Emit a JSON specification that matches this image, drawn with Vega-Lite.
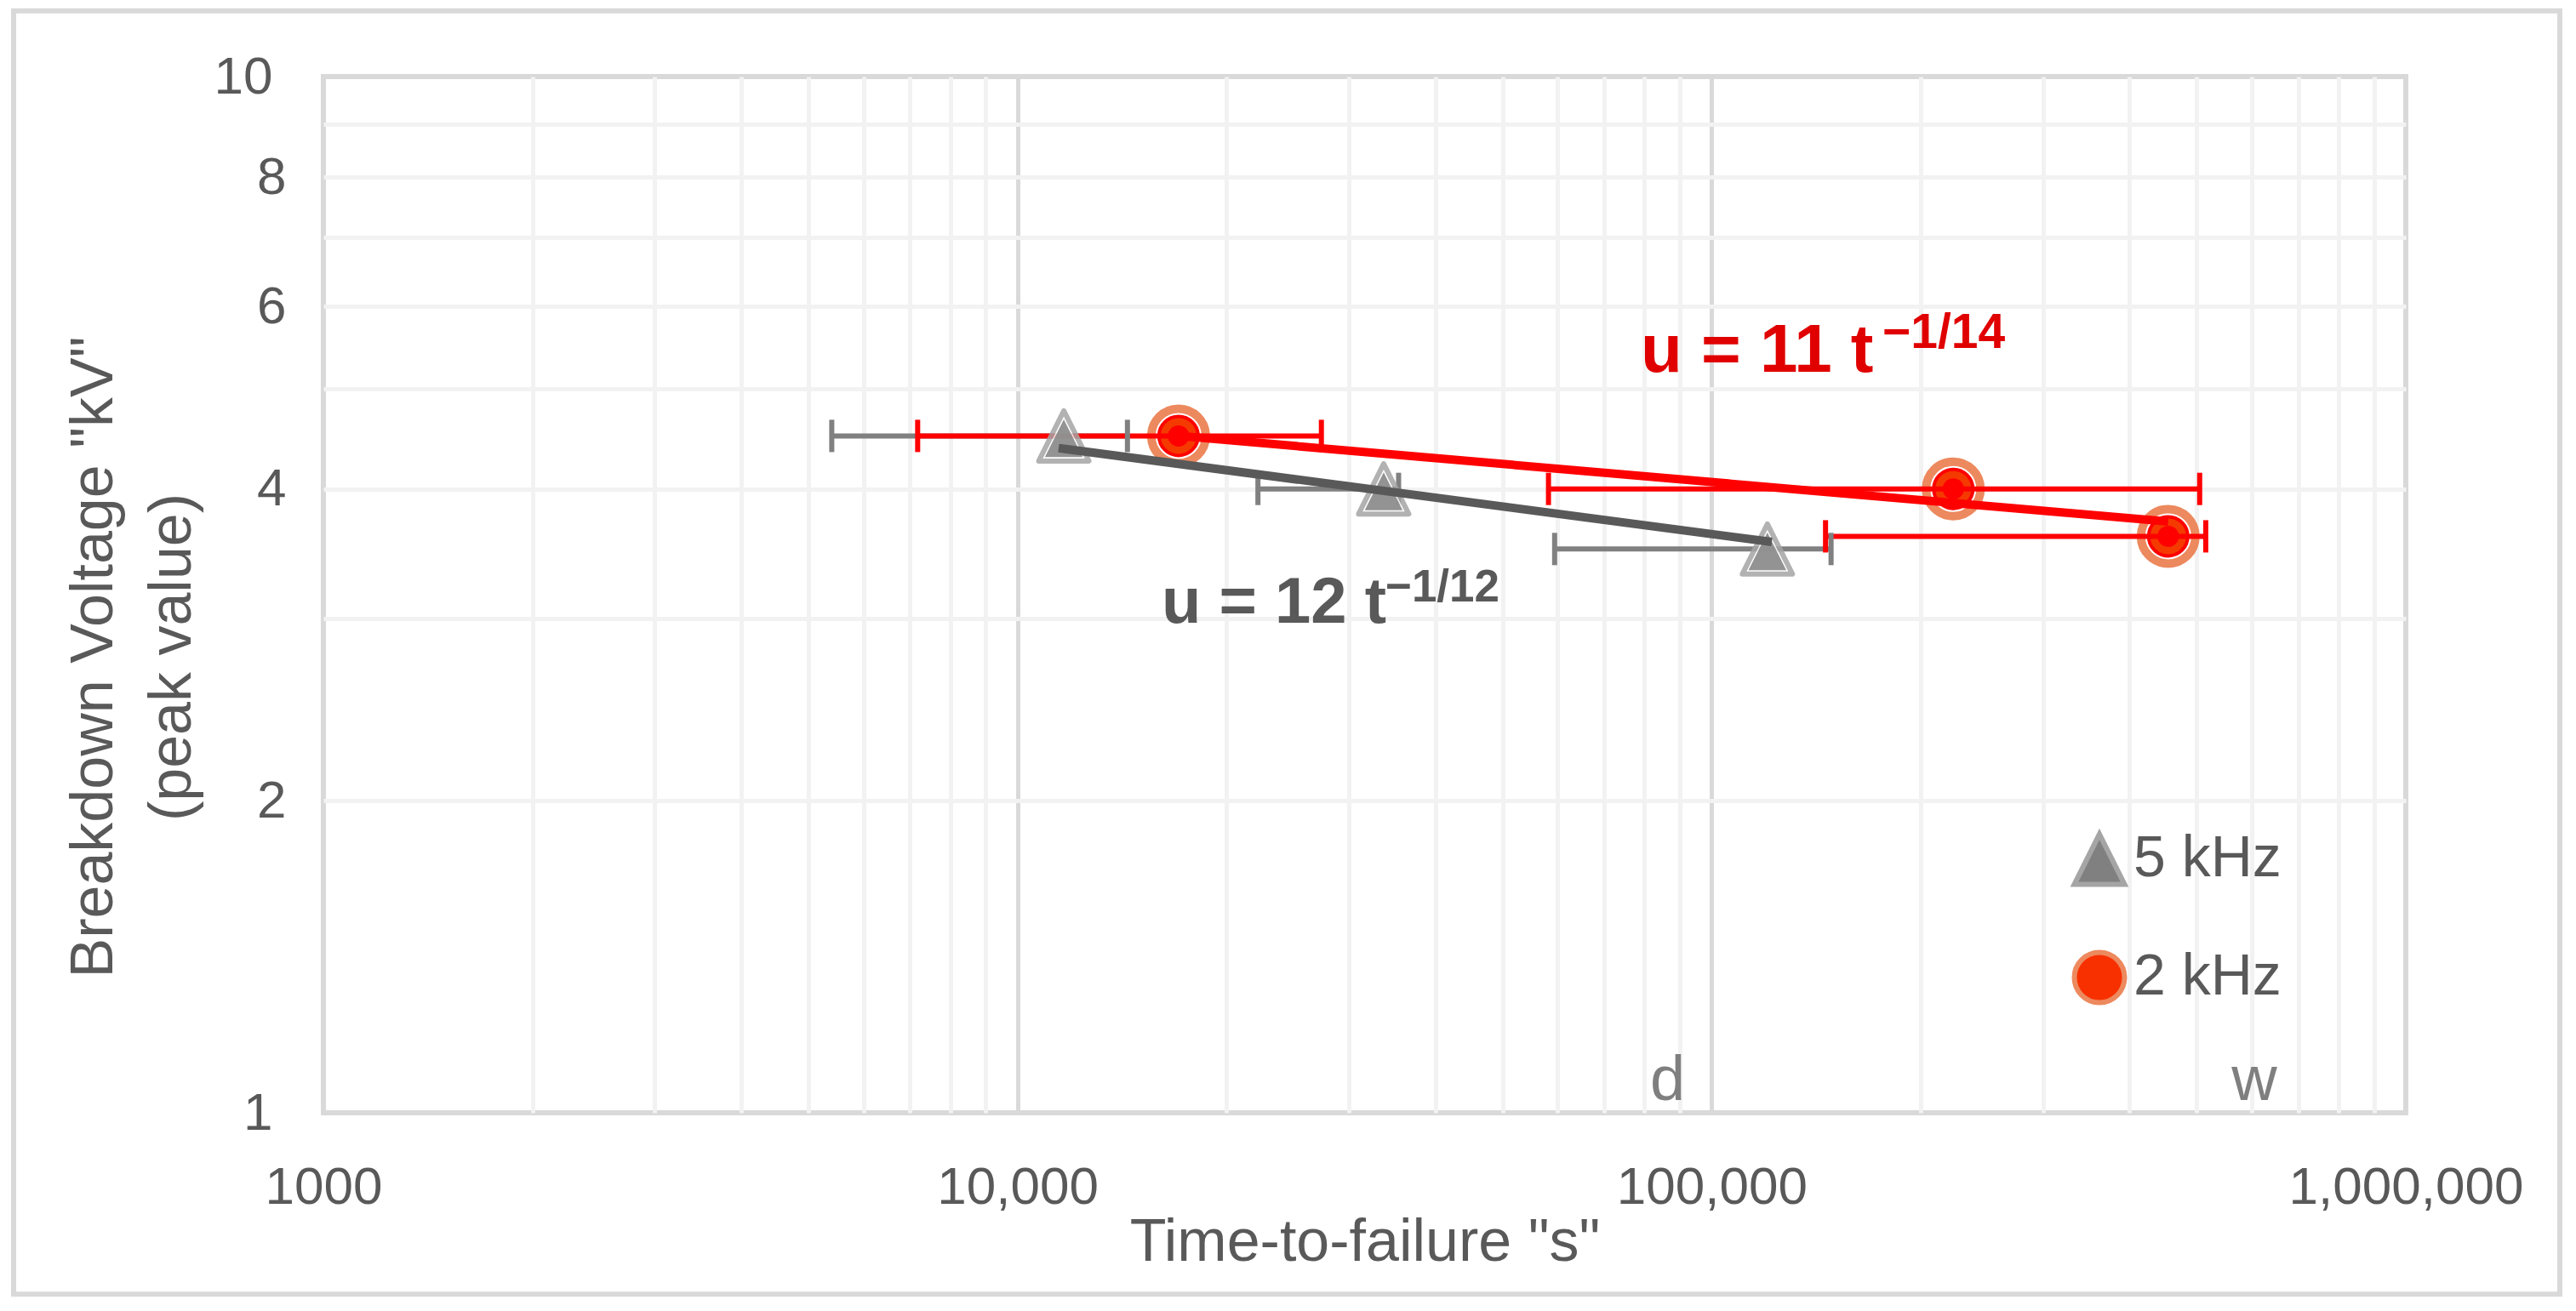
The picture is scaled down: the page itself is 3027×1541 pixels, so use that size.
{
  "$schema": "https://vega.github.io/schema/vega-lite/v6.json",
  "width": 2447,
  "height": 1218,
  "autosize": {"type": "none"},
  "padding": {"left": 380, "top": 90, "right": 200, "bottom": 233},
  "background": "white",
  "config": {
    "font": "Liberation Sans",
    "view": {"stroke": "#d9d9d9", "strokeWidth": 6}
  },
  "datasets": {
    "points": [
      {"series": "5 kHz", "t": 11660, "u": 4.5, "lo": 5400, "hi": 14400},
      {"series": "5 kHz", "t": 33690, "u": 4.0, "lo": 22200, "hi": 35400},
      {"series": "5 kHz", "t": 120300, "u": 3.5, "lo": 59400, "hi": 148600},
      {"series": "2 kHz", "t": 17060, "u": 4.5, "lo": 7180, "hi": 27400},
      {"series": "2 kHz", "t": 222900, "u": 4.0, "lo": 58200, "hi": 504700},
      {"series": "2 kHz", "t": 454700, "u": 3.6, "lo": 145900, "hi": 515000}
    ],
    "fits": [
      {"series": "5 kHz", "t": 11460, "u": 4.38},
      {"series": "5 kHz", "t": 122100, "u": 3.555},
      {"series": "2 kHz", "t": 17060, "u": 4.5},
      {"series": "2 kHz", "t": 454700, "u": 3.72}
    ],
    "notes": [
      {"series": "5 kHz", "part": "base", "text": "u = 12 t", "t": 16130, "u": 2.972},
      {"series": "5 kHz", "part": "sup", "text": "−1/12", "t": 33880, "u": 3.115},
      {"series": "2 kHz", "part": "base", "text": "u = 11 t", "t": 79040, "u": 5.189},
      {"series": "2 kHz", "part": "sup", "text": "−1/14", "t": 176200, "u": 5.471}
    ],
    "periods": [
      {"text": "d", "t": 86400},
      {"text": "w", "t": 604800}
    ]
  },
  "layer": [
    {
      "data": {"values": [{}]},
      "mark": {"type": "rect", "fillOpacity": 0, "stroke": "#d9d9d9", "strokeWidth": 6, "clip": false},
      "encoding": {
        "x": {"datum": 357.9, "type": "quantitative"},
        "x2": {"datum": 1666700},
        "y": {"datum": 11.57, "type": "quantitative"},
        "y2": {"datum": 0.6683}
      }
    },
    {
      "data": {"name": "points"},
      "transform": [{"filter": "datum.series == '2 kHz'"}],
      "mark": {"type": "point", "shape": "circle", "size": 4096, "filled": true, "fill": "white", "stroke": "#ED895E", "strokeWidth": 10, "opacity": 1},
      "encoding": {
        "x": {
          "field": "t", "type": "quantitative",
          "scale": {"type": "log", "domain": [1000, 1000000], "nice": false},
          "axis": {
            "title": "Time-to-failure \"s\"",
            "values": [1000, 2000, 3000, 4000, 5000, 6000, 7000, 8000, 9000, 10000, 20000, 30000, 40000, 50000, 60000, 70000, 80000, 90000, 100000, 200000, 300000, 400000, 500000, 600000, 700000, 800000, 900000, 1000000],
            "labelExpr": "datum.value == 1000 ? '1000' : ((datum.value == 10000 || datum.value == 100000 || datum.value == 1000000) ? format(datum.value, ',') : '')",
            "grid": true,
            "gridColor": {"condition": {"test": "datum.value == 10000 || datum.value == 100000", "value": "#d9d9d9"}, "value": "#f2f2f2"},
            "gridOpacity": {"condition": {"test": "datum.value == 1000 || datum.value == 1000000", "value": 0}, "value": 1},
            "gridWidth": 5,
            "ticks": false,
            "domain": false,
            "labelFontSize": 62,
            "labelColor": "#595959",
            "labelPadding": 57,
            "labelFlush": false,
            "labelOverlap": false,
            "labelLimit": 600,
            "labelBaseline": "top",
            "titleFontSize": 70,
            "titleFontWeight": "normal",
            "titleColor": "#595959",
            "titleBaseline": "alphabetic",
            "titleY": 173
          }
        },
        "y": {
          "field": "u", "type": "quantitative",
          "scale": {"type": "log", "domain": [1, 10], "nice": false},
          "axis": {
            "title": ["Breakdown Voltage \"kV\"", "(peak value)"],
            "values": [1, 2, 3, 4, 5, 6, 7, 8, 9, 10],
            "labelExpr": "indexof([1, 2, 4, 6, 8, 10], datum.value) >= 0 ? '' + datum.value : ''",
            "grid": true,
            "gridColor": "#f2f2f2",
            "gridOpacity": {"condition": {"test": "datum.value == 1 || datum.value == 10", "value": 0}, "value": 1},
            "gridWidth": 5,
            "ticks": false,
            "domain": false,
            "labelFontSize": 62,
            "labelColor": "#595959",
            "labelPadding": {"condition": {"test": "datum.value == 1 || datum.value == 10", "value": 60}, "value": 44},
            "labelOverlap": false,
            "titleFontSize": 70,
            "titleFontWeight": "normal",
            "titleColor": "#595959",
            "titleAngle": 270,
            "titleAlign": "center",
            "titleBaseline": "alphabetic",
            "titleLineHeight": 92,
            "titleX": -249,
            "titleY": 682
          }
        }
      }
    },
    {
      "data": {"name": "points"},
      "transform": [{"filter": "datum.series == '2 kHz'"}],
      "mark": {"type": "point", "shape": "circle", "size": 2116, "filled": true, "fill": "#F53A00", "stroke": "#FF0000", "strokeWidth": 4, "opacity": 1},
      "encoding": {"x": {"field": "t", "type": "quantitative"}, "y": {"field": "u", "type": "quantitative"}}
    },
    {
      "data": {"name": "points"},
      "transform": [{"filter": "datum.series == '2 kHz'"}],
      "mark": {"type": "point", "shape": "circle", "size": 625, "filled": true, "fill": "#FF0000", "strokeWidth": 0, "opacity": 1},
      "encoding": {"x": {"field": "t", "type": "quantitative"}, "y": {"field": "u", "type": "quantitative"}}
    },
    {
      "data": {"name": "points"},
      "mark": {"type": "rule", "strokeWidth": 6, "opacity": 1},
      "encoding": {
        "x": {"field": "lo", "type": "quantitative"},
        "x2": {"field": "hi"},
        "y": {"field": "u", "type": "quantitative"},
        "color": {"condition": {"test": "datum.series == '5 kHz'", "value": "#808080"}, "value": "#FF0000"}
      }
    },
    {
      "data": {"name": "points"},
      "transform": [{"fold": ["lo", "hi"], "as": ["end", "tc"]}],
      "mark": {"type": "tick", "orient": "vertical", "size": 38, "thickness": 6, "opacity": 1},
      "encoding": {
        "x": {"field": "tc", "type": "quantitative"},
        "y": {"field": "u", "type": "quantitative"},
        "color": {"condition": {"test": "datum.series == '5 kHz'", "value": "#808080"}, "value": "#FF0000"}
      }
    },
    {
      "data": {"name": "points"},
      "transform": [{"filter": "datum.series == '5 kHz'"}],
      "mark": {"type": "point", "shape": "M0,-1L1,1L-1,1Z", "size": 3481, "filled": true, "fill": "white", "stroke": "#a5a5a5", "strokeWidth": 6, "strokeJoin": "round", "opacity": 0.85},
      "encoding": {"x": {"field": "t", "type": "quantitative"}, "y": {"field": "u", "type": "quantitative"}}
    },
    {
      "data": {"name": "points"},
      "transform": [{"filter": "datum.series == '5 kHz'"}],
      "mark": {"type": "point", "shape": "M0,-0.659L0.753,0.847L-0.753,0.847Z", "size": 3481, "filled": true, "fill": "#808080", "strokeWidth": 0, "opacity": 0.85},
      "encoding": {"x": {"field": "t", "type": "quantitative"}, "y": {"field": "u", "type": "quantitative"}}
    },
    {
      "data": {"name": "fits"},
      "mark": {"type": "line", "strokeWidth": 10, "strokeCap": "butt"},
      "encoding": {
        "x": {"field": "t", "type": "quantitative"},
        "y": {"field": "u", "type": "quantitative"},
        "detail": {"field": "series", "type": "nominal"},
        "color": {"condition": {"test": "datum.series == '5 kHz'", "value": "#595959"}, "value": "#FF0000"}
      }
    },
    {
      "data": {"name": "notes"},
      "transform": [{"filter": "datum.part == 'base'"}],
      "mark": {"type": "text", "fontWeight": "bold", "align": "left", "baseline": "alphabetic"},
      "encoding": {
        "x": {"field": "t", "type": "quantitative"},
        "y": {"field": "u", "type": "quantitative"},
        "text": {"field": "text"},
        "size": {"condition": {"test": "datum.series == '2 kHz'", "value": 80}, "value": 76},
        "color": {"condition": {"test": "datum.series == '2 kHz'", "value": "#E00000"}, "value": "#595959"}
      }
    },
    {
      "data": {"name": "notes"},
      "transform": [{"filter": "datum.part == 'sup'"}],
      "mark": {"type": "text", "fontWeight": "bold", "align": "left", "baseline": "alphabetic"},
      "encoding": {
        "x": {"field": "t", "type": "quantitative"},
        "y": {"field": "u", "type": "quantitative"},
        "text": {"field": "text"},
        "size": {"condition": {"test": "datum.series == '2 kHz'", "value": 57}, "value": 53},
        "color": {"condition": {"test": "datum.series == '2 kHz'", "value": "#E00000"}, "value": "#595959"}
      }
    },
    {
      "data": {"name": "periods"},
      "mark": {"type": "text", "align": "center", "baseline": "alphabetic", "dy": -15, "fontSize": 74, "color": "#7f7f7f"},
      "encoding": {
        "x": {"field": "t", "type": "quantitative"},
        "y": {"datum": 1, "type": "quantitative"},
        "text": {"field": "text"}
      }
    },
    {
      "data": {"name": "points"},
      "transform": [{"filter": "datum.series == 'none'"}],
      "mark": {"type": "point", "filled": true, "opacity": 1, "strokeWidth": 6},
      "encoding": {
        "x": {"field": "t", "type": "quantitative"},
        "y": {"field": "u", "type": "quantitative"},
        "shape": {
          "field": "series", "type": "nominal",
          "scale": {"domain": ["5 kHz", "2 kHz"], "range": ["M0,-1L1,1L-1,1Z", "circle"]},
          "legend": {"title": null, "orient": "none", "legendX": 2053, "legendY": 886, "symbolSize": 3481, "symbolStrokeWidth": 6, "symbolOpacity": 1, "labelFontSize": 68, "labelColor": "#595959", "labelOffset": 6, "rowPadding": 55, "padding": 0, "labelLimit": 0}
        },
        "fill": {
          "field": "series", "type": "nominal",
          "scale": {"domain": ["5 kHz", "2 kHz"], "range": ["#808080", "#F83000"]},
          "legend": {"title": null, "orient": "none", "legendX": 2053, "legendY": 886, "symbolSize": 3481, "symbolStrokeWidth": 6, "symbolOpacity": 1, "labelFontSize": 68, "labelColor": "#595959", "labelOffset": 6, "rowPadding": 55, "padding": 0, "labelLimit": 0}
        },
        "stroke": {
          "field": "series", "type": "nominal",
          "scale": {"domain": ["5 kHz", "2 kHz"], "range": ["#a5a5a5", "#ED895E"]},
          "legend": {"title": null, "orient": "none", "legendX": 2053, "legendY": 886, "symbolSize": 3481, "symbolStrokeWidth": 6, "symbolOpacity": 1, "labelFontSize": 68, "labelColor": "#595959", "labelOffset": 6, "rowPadding": 55, "padding": 0, "labelLimit": 0}
        }
      }
    }
  ]
}
